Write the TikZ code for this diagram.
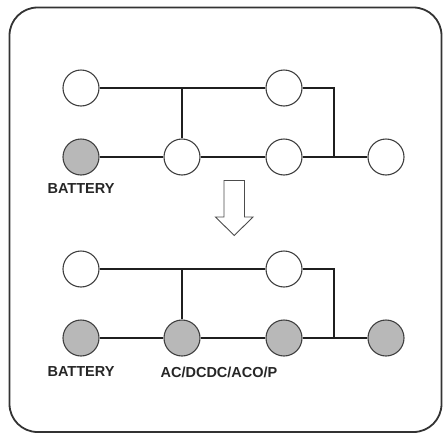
\documentclass[tikz,border=0pt]{standalone}
\usepackage{fontspec}
\setmainfont{Liberation Sans}
\begin{document}
\begin{tikzpicture}[x=1pt,y=-1pt,
  dev/.style={circle,draw=black!75,line width=1.1pt,minimum size=36pt,inner sep=0pt,fill=white},
  act/.style={dev,fill=black!28},
  wire/.style={draw=black!88,line width=1.8pt},
  hollowarrow/.style={draw=black!70,line width=0.9pt,fill=white,line join=miter},
  lbl/.style={font=\bfseries\fontsize{14.5}{16}\selectfont,text=black!85,inner sep=0pt}]
\useasboundingbox (0,0) rectangle (448,437);
\draw[line width=1.8pt,draw=black!80,rounded corners=28pt] (9.5,7.5) rectangle (441.5,432);
% upper diagram
\node[dev] (a1) at (81,88) {};
\node[dev] (a2) at (284,88) {};
\node[act] (b1) at (81,157) {};
\node[dev] (b2) at (182,157) {};
\node[dev] (b3) at (284,157) {};
\node[dev] (b4) at (386,157) {};
\coordinate (aj) at (182,88);
\coordinate (ac) at (334,88);
\coordinate (bj) at (334,157);
\draw[wire] (a1) -- (a2);
\draw[wire] (aj) -- (b2);
\draw[wire] (a2) -- (ac) -- (bj);
\draw[wire] (b1) -- (b2);
\draw[wire] (b2) -- (b3);
\draw[wire] (b3) -- (b4);
\node[lbl] (l1) at (81,189) {BATTERY};
% arrow
\draw[hollowarrow] (224,180.5) -- (244.5,180.5) -- (244.5,217) -- (253,217) -- (234.25,235.5)
  -- (215.5,217) -- (224,217) -- cycle;
% lower diagram
\node[dev] (c1) at (81,269) {};
\node[dev] (c2) at (284,269) {};
\node[act] (d1) at (81,338) {};
\node[act] (d2) at (182,338) {};
\node[act] (d3) at (284,338) {};
\node[act] (d4) at (386,338) {};
\coordinate (cj) at (182,269);
\coordinate (cc) at (334,269);
\coordinate (dj) at (334,338);
\draw[wire] (c1) -- (c2);
\draw[wire] (cj) -- (d2);
\draw[wire] (c2) -- (cc) -- (dj);
\draw[wire] (d1) -- (d2);
\draw[wire] (d2) -- (d3);
\draw[wire] (d3) -- (d4);
\node[lbl] (l2) at (81,372) {BATTERY};
\node[lbl] (l3) at (219,372) {AC/DCDC/ACO/P};
\end{tikzpicture}
\end{document}
